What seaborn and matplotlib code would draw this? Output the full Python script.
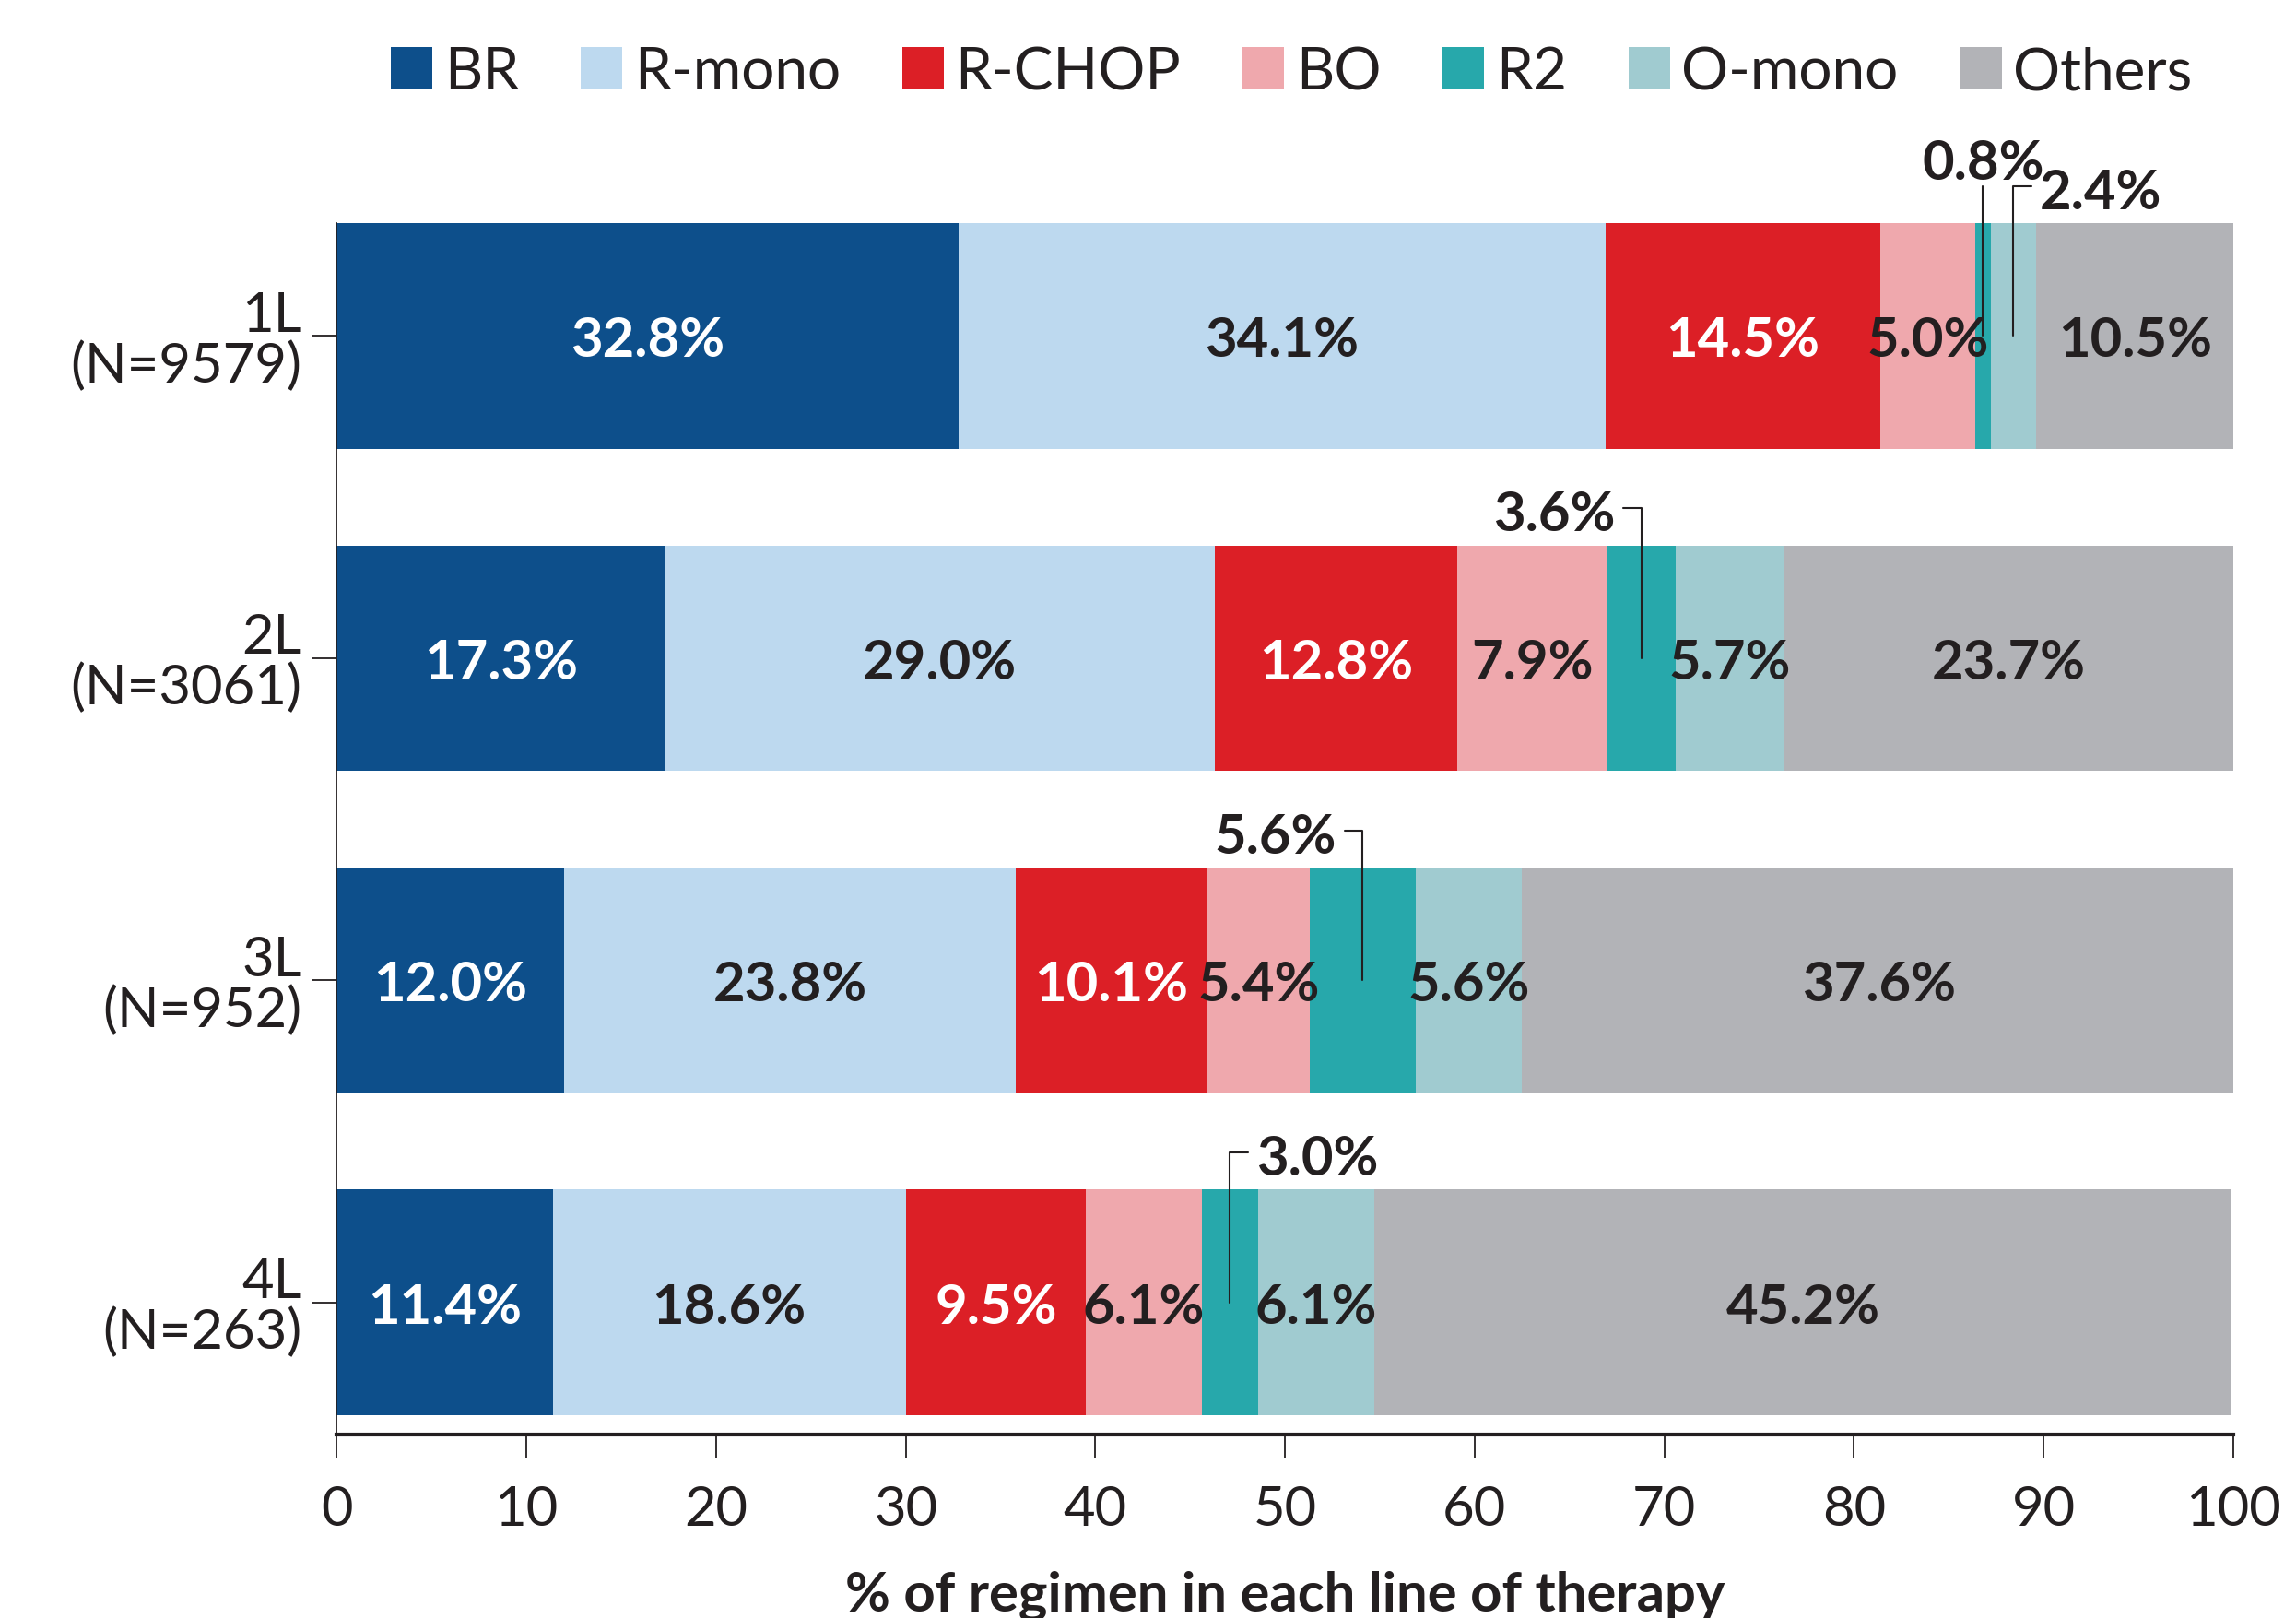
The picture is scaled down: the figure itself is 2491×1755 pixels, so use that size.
import numpy as np
import pandas as pd
import matplotlib
matplotlib.use("Agg")
import matplotlib.pyplot as plt
from matplotlib.patches import Patch
import seaborn as sns

# data (% of regimen in each line of therapy)
lines = ["1L", "2L", "3L", "4L"]
n_patients = [9579, 3061, 952, 263]
regimens = ["BR", "R-mono", "R-CHOP", "BO", "R2", "O-mono", "Others"]
br = [32.8, 17.3, 12.0, 11.4]
r_mono = [34.1, 29.0, 23.8, 18.6]
r_chop = [14.5, 12.8, 10.1, 9.5]
bo = [5.0, 7.9, 5.4, 6.1]
r2 = [0.8, 3.6, 5.6, 3.0]
o_mono = [2.4, 5.7, 5.6, 6.1]
others = [10.5, 23.7, 37.6, 45.2]

# segments that get a leader line instead of an inside label
callouts = {(0, "R2"): "top", (0, "O-mono"): "right", (1, "R2"): "left",
            (2, "R2"): "left", (3, "R2"): "right"}

colors = {"BR": "#0d4f8b", "R-mono": "#bdd9ef", "R-CHOP": "#dc1f26",
          "BO": "#efa8ad", "R2": "#27a8ab", "O-mono": "#a0cbd0",
          "Others": "#b2b3b7"}
white_text = ["BR", "R-CHOP"]
dark = "#231f20"

sns.set_style("ticks")
plt.rcParams["font.family"] = ["Lato", "DejaVu Sans"]

df = pd.DataFrame({"line": lines, "BR": br, "R-mono": r_mono, "R-CHOP": r_chop,
                   "BO": bo, "R2": r2, "O-mono": o_mono, "Others": others})

fig = plt.figure(figsize=(24.91, 17.56), dpi=100)
ax = fig.add_axes([0.1466, 0.1133, 0.8261, 0.7483])

FS = 43
start = np.zeros(len(lines))
for reg in regimens:
    sns.barplot(data=df, x=reg, y="line", orient="h", color=colors[reg],
                saturation=1, width=0.7, errorbar=None, left=start.copy(),
                linewidth=0, ax=ax)
    vals = df[reg].to_numpy()
    for i, v in enumerate(vals):
        cx = start[i] + v / 2
        side = callouts.get((i, reg))
        txt = f"{v:.1f}%"
        if side is None:
            ax.text(cx, i, txt, ha="center", va="center_baseline", fontsize=FS,
                    fontweight="bold",
                    color="white" if reg in white_text else dark)
            continue
        ey = i - 0.465
        if side == "top":
            ax.plot([cx, cx], [i, ey], color=dark, lw=1.5, clip_on=False)
            ax.text(cx, i - 0.55, txt, ha="center", va="center_baseline",
                    fontsize=FS, fontweight="bold", color=dark)
        else:
            d = 1 if side == "right" else -1
            ax.plot([cx, cx, cx + d * 0.95], [i, ey, ey], color=dark, lw=1.5,
                    clip_on=False)
            ax.text(cx + d * 1.4, i - 0.46, txt,
                    ha="left" if d > 0 else "right", va="center_baseline",
                    fontsize=FS, fontweight="bold", color=dark)
    start = start + vals

ax.set_xlim(0, 100)
ax.set_ylim(3.41, -0.35)
ax.set_xticks(np.arange(0, 101, 10))
ax.set_yticks(range(len(lines)))
ax.set_yticklabels([f"{l}\n(N={n})" for l, n in zip(lines, n_patients)],
                   linespacing=1.0)
ax.set_ylabel("")
ax.set_xlabel("% of regimen in each line of therapy", fontsize=FS,
              fontweight="bold", color=dark, labelpad=28)
ax.tick_params(axis="x", length=18, width=1.3, pad=21, labelsize=FS,
               colors=dark)
ax.tick_params(axis="y", length=19, width=1.3, pad=8, labelsize=FS,
               colors=dark)
sns.despine(ax=ax)
ax.spines["left"].set_linewidth(1.3)
ax.spines["left"].set_color(dark)
ax.spines["bottom"].set_linewidth(3)
ax.spines["bottom"].set_color(dark)

handles = [Patch(facecolor=colors[r], edgecolor="none") for r in regimens]
ax.legend(handles, regimens, loc="center", bbox_to_anchor=(0.5626, 0.955),
          bbox_transform=fig.transFigure, ncol=7, frameon=False, fontsize=46,
          handlelength=0.7, handleheight=0.74, handletextpad=0.2,
          columnspacing=1.05, labelcolor=dark)

fig.savefig("out.png", dpi=100)
